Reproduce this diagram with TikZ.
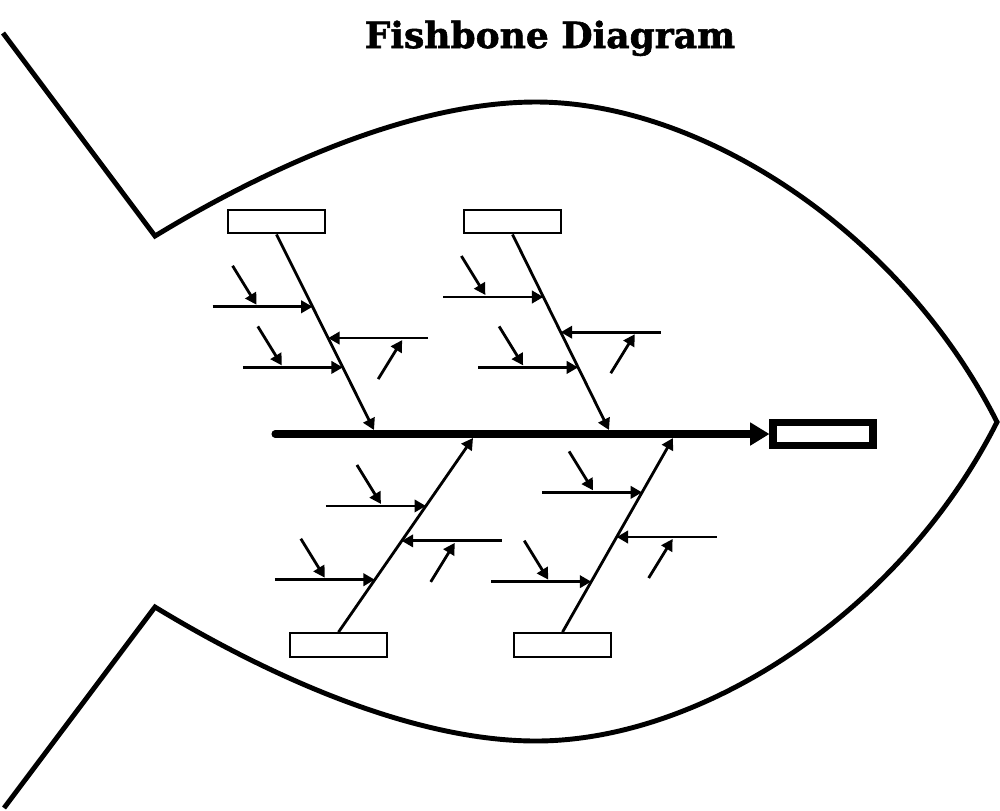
\documentclass[tikz,border=0pt]{standalone}
\usepackage{fontspec}
\usepackage{tikz}
\usetikzlibrary{arrows.meta, calc, positioning}
\newfontfamily\titlefont[BoldFeatures={FakeBold=1.6}]{DejaVu Serif}
\definecolor{fbInk}{HTML}{000000}

\begin{document}
\begin{tikzpicture}[
  x=0.2mm, y=-0.2mm,
  fish/.style={draw=fbInk, line width=2.8pt, line join=miter},
  spine/.style={draw=fbInk, line width=4pt, line cap=round, -{Triangle[length=11pt, width=12.5pt]}},
  bone/.style={draw=fbInk, line width=1.6pt, -{Triangle[length=6.5pt, width=7pt]}},
  sub/.style={bone},
  cause/.style={draw=fbInk, line width=1.3pt, fill=white, inner sep=0pt,
                minimum width=1.95cm, minimum height=0.47cm},
  effect/.style={cause, line width=4pt, minimum width=2cm, minimum height=0.46cm},
  title/.style={font=\titlefont\bfseries\fontsize{20.5}{24}\selectfont, text=fbInk}
]
\useasboundingbox (0,0) rectangle (1000,810);

\node[title, anchor=base] (ttl) at (550,48) {Fishbone Diagram};

% fish outline
\draw[fish] (3,33) -- (155,236) .. controls (280,160) and (420,102) .. (536,102)
  .. controls (700,102) and (900,230) .. (997,422)
  .. controls (900,614) and (700,741) .. (536,741)
  .. controls (420,741) and (280,683) .. (155,607) -- (4,808);

% head and cause boxes
\node[effect] (head) at (823,434) {};
\node[cause] (b1) at (276.5,221.5) {};
\node[cause] (b2) at (512.5,221.5) {};
\node[cause] (b3) at (338.5,645) {};
\node[cause] (b4) at (562.5,645) {};

\coordinate (tail) at (275,434);
\coordinate (s1) at (374,430);
\coordinate (s2) at (609,430);
\coordinate (s3) at (473,438);
\coordinate (s4) at (673,438);

\draw[spine] (tail) -- (head.west);
\draw[bone] (b1.south) -- (s1);
\draw[bone] (b2.south) -- (s2);
\draw[bone] (b3.north) -- (s3);
\draw[bone] (b4.north) -- (s4);

% sub-causes
\foreach \b/\a/\s/\t/\sd/\d [count=\i] in {
  b1/south/s1/0.37/-1/-56, b1/south/s1/0.68/-1/-61, b1/south/s1/0.53/1/74,
  b2/south/s2/0.32/-1/-58, b2/south/s2/0.68/-1/-55, b2/south/s2/0.50/1/74,
  b3/north/s3/0.65/-1/-45, b3/north/s3/0.27/-1/-50, b3/north/s3/0.47/1/53,
  b4/north/s4/0.72/-1/-49, b4/north/s4/0.26/-1/-43, b4/north/s4/0.49/1/56}{
  \coordinate (c\i) at ($(\b.\a)!\t!(\s)$);
  \coordinate (e\i) at ($(c\i)+({100*(\sd)},0)$);
  \coordinate (p\i) at ($(c\i)+(\d,{2*(\sd)})$);
  \coordinate (q\i) at ($(p\i)+(-24,{39*(\sd)})$);
  \draw[sub] (e\i) -- (c\i);
  \draw[sub] (q\i) -- (p\i);
}
\end{tikzpicture}
\end{document}
